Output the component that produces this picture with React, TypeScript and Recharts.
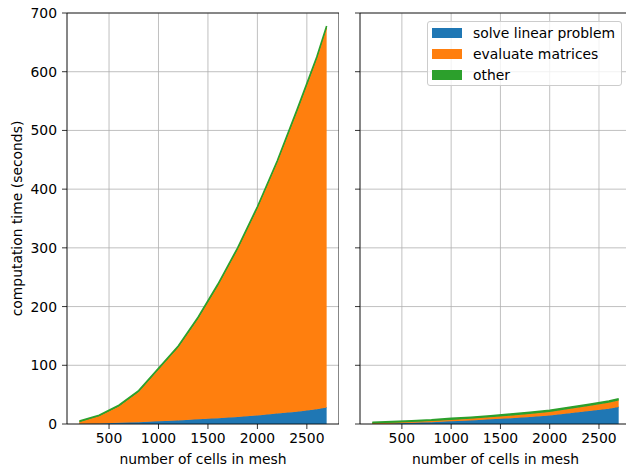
import React from 'react';
import { AreaChart, Area, XAxis, YAxis, CartesianGrid, ReferenceArea, Label } from 'recharts';

const cells = [200, 400, 600, 800, 1000, 1200, 1400, 1600, 1800, 2000, 2200, 2400, 2600, 2700];

const leftSolve = [0.5, 1, 2, 3, 4.5, 6, 8, 10, 12, 14.5, 18, 21, 25, 28];
const leftEvaluate = [2.5, 12, 28, 51.5, 88, 124.5, 171, 225, 285, 352.5, 427, 510.5, 596.5, 646.5];
const leftOther = [2, 2, 2, 2.5, 2.5, 2.5, 3, 3, 3, 3, 3, 3.5, 3.5, 3.5];

const rightSolve = [0.5, 1, 2, 3, 4.5, 6, 8, 10, 12, 14.5, 18.5, 22, 26, 29];
const rightEvaluate = [0.5, 1, 1.5, 2, 2.5, 3, 3.5, 4, 5, 6, 7, 8.5, 10, 11];
const rightOther = [2, 2, 2, 2, 2.5, 2.5, 2.5, 3, 3, 3, 3, 3, 3, 3];

const seriesNames = ['solve linear problem', 'evaluate matrices', 'other'];
const seriesColors = ['#1f77b4', '#ff7f0e', '#2ca02c'];
const seriesStroke = [1, 1, 1.6];

const xTicks = [500, 1000, 1500, 2000, 2500];
const yTicks = [0, 100, 200, 300, 400, 500, 600, 700];
const xDomain = [75, 2825];
const yDomain = [0, 700];

const buildRows = (solve: number[], evaluate: number[], other: number[]) =>
  cells.map((c, i) => ({ cells: c, solve: solve[i], evaluate: evaluate[i], other: other[i] }));

const leftRows = buildRows(leftSolve, leftEvaluate, leftOther);
const rightRows = buildRows(rightSolve, rightEvaluate, rightOther);

const FONT = 'DejaVu Sans';
const FS = 13.9;
const tickStyle = { fontFamily: FONT, fontSize: FS, fill: '#000' };

function Panel({ rows, showY }: { rows: any[]; showY: boolean }) {
  const keys = ['solve', 'evaluate', 'other'];
  return (
    <AreaChart
      width={showY ? 339 : 281}
      height={467}
      data={rows}
      margin={{ top: 13, right: 0, bottom: 0, left: 0 }}
    >
      {keys.map((k, i) => (
        <Area
          key={k}
          type="linear"
          dataKey={k}
          stackId="s"
          fill={seriesColors[i]}
          fillOpacity={1}
          stroke={seriesColors[i]}
          strokeWidth={seriesStroke[i]}
          dot={false}
          activeDot={false}
          isAnimationActive={false}
        />
      ))}
      <CartesianGrid stroke="#b0b0b0" strokeWidth={0.8} />
      <XAxis
        dataKey="cells"
        type="number"
        domain={xDomain}
        ticks={xTicks}
        allowDataOverflow
        height={43}
        tickSize={5}
        tickMargin={4}
        axisLine={false}
        tickLine={{ stroke: '#000', strokeWidth: 0.8 }}
        tick={tickStyle}
      >
        <Label
          value="number of cells in mesh"
          position="insideBottom"
          offset={3}
          style={{ fontFamily: FONT, fontSize: FS, fill: '#000' }}
        />
      </XAxis>
      <YAxis
        type="number"
        domain={yDomain}
        ticks={yTicks}
        allowDataOverflow
        width={showY ? 67 : 10}
        tickSize={5}
        tickMargin={5}
        axisLine={false}
        tickLine={{ stroke: '#000', strokeWidth: 0.8 }}
        tick={tickStyle}
        tickFormatter={showY ? (v: number) => String(v) : () => ''}
      >
        {showY ? (
          <Label
            content={(props: any) => {
              const vb = props.viewBox || { y: 13, height: 411 };
              const cy = vb.y + vb.height / 2;
              return (
                <text
                  x={17}
                  y={cy}
                  transform={`rotate(-90 17 ${cy})`}
                  textAnchor="middle"
                  dominantBaseline="central"
                  fontFamily={FONT}
                  fontSize={FS}
                  fill="#000"
                >
                  computation time (seconds)
                </text>
              );
            }}
          />
        ) : null}
      </YAxis>
      <ReferenceArea
        x1={xDomain[0]}
        x2={xDomain[1]}
        y1={yDomain[0]}
        y2={yDomain[1]}
        fill="none"
        fillOpacity={0}
        stroke="#000"
        strokeWidth={0.8}
        ifOverflow="visible"
      />
    </AreaChart>
  );
}

export default function App() {
  return (
    <div
      style={{
        position: 'fixed',
        left: 0,
        top: 0,
        width: 626,
        height: 467,
        overflow: 'hidden',
        background: '#fff',
      }}
    >
      <div style={{ position: 'absolute', left: 0, top: 0 }}>
        <Panel rows={leftRows} showY={true} />
      </div>
      <div style={{ position: 'absolute', left: 350, top: 0 }}>
        <Panel rows={rightRows} showY={false} />
      </div>
      <div
        style={{
          position: 'absolute',
          left: 427,
          top: 21,
          width: 195,
          height: 65,
          background: 'rgba(255,255,255,0.8)',
          border: '1px solid #cccccc',
          borderRadius: 3,
          boxSizing: 'border-box',
          fontFamily: FONT,
          fontSize: FS,
          color: '#000',
        }}
      >
        {seriesNames.map((n, i) => (
          <div
            key={n}
            style={{
              position: 'absolute',
              left: 4,
              top: 2 + i * 21,
              height: 18,
              display: 'flex',
              alignItems: 'center',
              whiteSpace: 'nowrap',
            }}
          >
            <div style={{ width: 30, height: 10.5, background: seriesColors[i], marginRight: 11 }} />
            <span style={{ lineHeight: '18px' }}>{n}</span>
          </div>
        ))}
      </div>
    </div>
  );
}
